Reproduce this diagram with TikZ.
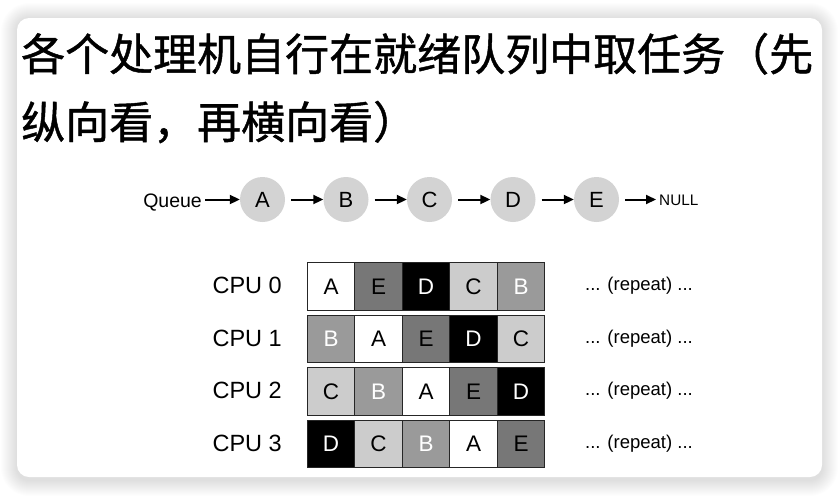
\documentclass[tikz,border=0pt]{standalone}
\usepackage{fontspec}
\setmainfont{Liberation Sans}
\newfontfamily\cjk[FakeBold=1]{Noto Sans CJK SC}
\usetikzlibrary{arrows.meta}
\definecolor{cA}{HTML}{FFFFFF}
\definecolor{cB}{HTML}{9A9A9A}
\definecolor{cC}{HTML}{CCCCCC}
\definecolor{cD}{HTML}{000000}
\definecolor{cE}{HTML}{777777}
\definecolor{qfill}{HTML}{D3D3D3}
\tikzset{
  qnode/.style={circle, fill=qfill, minimum size=45pt, inner sep=0pt, font=\fontsize{22}{22}\selectfont},
  qarrow/.style={line width=2pt, -{Triangle[length=10pt,width=9pt]}},
  cell/.style={draw=black!85, line width=1.1pt, minimum width=47.5pt, minimum height=47.5pt, inner sep=0pt, anchor=north west, font=\fontsize{22.5}{22.5}\selectfont},
  cpulabel/.style={anchor=east, inner sep=0pt, font=\fontsize{23.5}{23.5}\selectfont},
  repeatlabel/.style={inner sep=0pt, font=\fontsize{18.5}{18.5}\selectfont},
  title/.style={anchor=base west, inner sep=0pt, font=\cjk\fontsize{44}{44}\selectfont}
}
\begin{document}
\begin{tikzpicture}[x=1pt,y=-1pt]
\useasboundingbox (0,0) rectangle (840,496);
\fill[white] (0,0) rectangle (840,496);
% shadow
\foreach \i in {1,...,16}{
  \fill[black, opacity=0.009, rounded corners={12pt+\i pt}] (17-\i,18-\i+1) rectangle (822+\i,477+\i+3);
}
\fill[white, rounded corners=12pt] (17,18) rectangle (822,477);
% title
\node[title] (t1) at (21,70.5) {各个处理机自行在就绪队列中取任务（先};
\node[title] (t2) at (21,138.5) {纵向看，再横向看）};
% queue
\node[anchor=base east, inner sep=0pt, font=\fontsize{19.5}{19.5}\selectfont] (queue) at (202,207) {Queue};
\node[qnode] (A) at (262.5,199.5) {A};
\node[qnode] (B) at (346,199.5) {B};
\node[qnode] (C) at (429.5,199.5) {C};
\node[qnode] (D) at (513,199.5) {D};
\node[qnode] (E) at (596.5,199.5) {E};
\node[anchor=base west, inner sep=0pt, font=\fontsize{15.3}{15.3}\selectfont] (null) at (659,205.5) {NULL};
\draw[qarrow, shorten <=3pt] (queue.east |- A) -- (A);
\draw[qarrow, shorten <=6pt] (A) -- (B);
\draw[qarrow, shorten <=6pt] (B) -- (C);
\draw[qarrow, shorten <=6pt] (C) -- (D);
\draw[qarrow, shorten <=6pt] (D) -- (E);
\draw[qarrow, shorten <=6pt, shorten >=3pt] (E) -- (null.west |- E);
% grid
\foreach \r/\seq in {0/{A/black,E/black,D/white,C/black,B/white},1/{B/white,A/black,E/black,D/white,C/black},2/{C/black,B/white,A/black,E/black,D/white},3/{D/white,C/black,B/white,A/black,E/black}}{
  \pgfmathsetmacro{\ry}{262+52.5*\r}
  \foreach \l/\tc [count=\c from 0] in \seq {
    \pgfmathsetmacro{\cx}{306.7+47.5*\c}
    \node[cell, fill=c\l, text=\tc] (cell\r\l) at (\cx,\ry) {\l};
  }
  \node[cpulabel] (cpu\r) at (282,\ry+23.75) {CPU \r};
  \node[repeatlabel] (rep\r) at (639,\ry+23.75) {... (repeat) ...};
}
\end{tikzpicture}
\end{document}
